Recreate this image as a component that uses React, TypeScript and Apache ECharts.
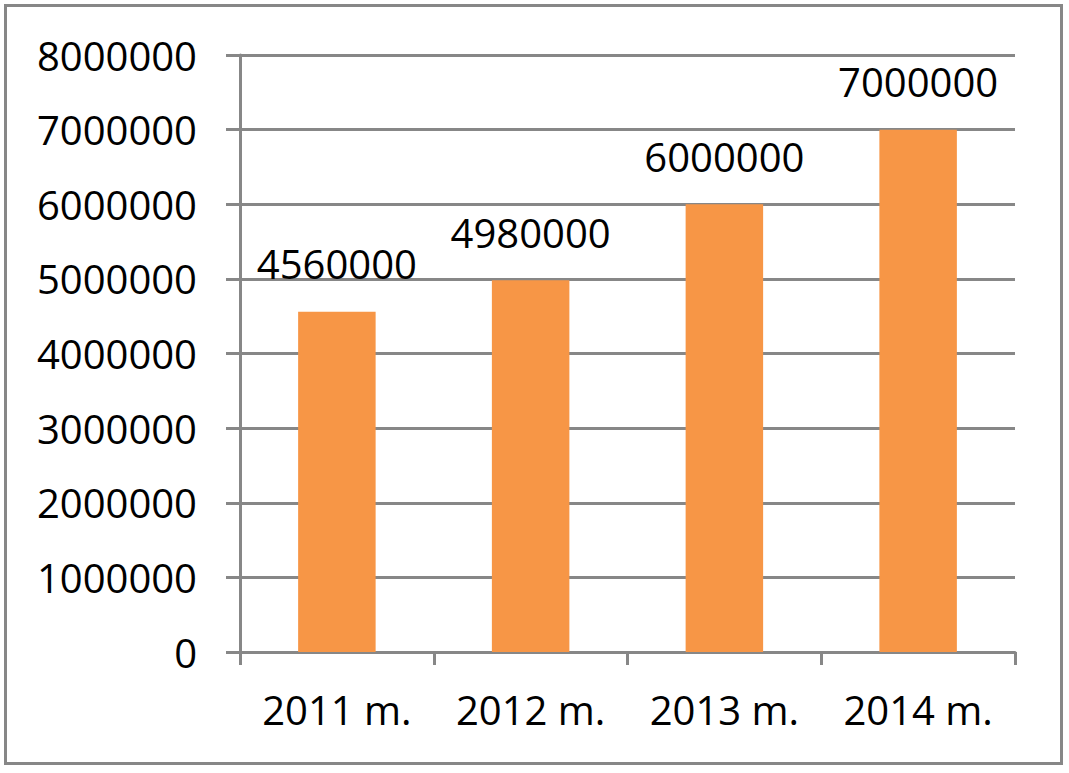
import React, { useEffect, useRef } from "react";
import * as echarts from "echarts";

const categories = ["2011 m.", "2012 m.", "2013 m.", "2014 m."];
const values = [4560000, 4980000, 6000000, 7000000];
const yMin = 0;
const yMax = 8000000;
const yInterval = 1000000;

const FONT = "'Open Sans', 'Liberation Sans', sans-serif";
const GRAY = "#878787";

export default function App() {
  const ref = useRef<HTMLDivElement>(null);
  useEffect(() => {
    if (!ref.current) return;
    const chart = echarts.init(ref.current, undefined, { renderer: "svg" });
    chart.setOption({
      animation: false,
      backgroundColor: "#ffffff",
      grid: { left: 240, right: 54, top: 55, bottom: 121, containLabel: false },
      xAxis: {
        type: "category",
        data: categories,
        axisLine: { lineStyle: { color: GRAY, width: 3 } },
        axisTick: { show: true, length: 13, lineStyle: { color: GRAY, width: 3 } },
        axisLabel: {
          color: "#000",
          fontFamily: FONT,
          fontSize: 40,
          margin: 37,
          interval: 0,
        },
      },
      yAxis: {
        type: "value",
        min: yMin,
        max: yMax,
        interval: yInterval,
        axisLine: { show: true, lineStyle: { color: GRAY, width: 3 } },
        axisTick: { show: true, length: 14, lineStyle: { color: GRAY, width: 3 } },
        splitLine: { lineStyle: { color: GRAY, width: 3 } },
        axisLabel: {
          color: "#000",
          fontFamily: FONT,
          fontSize: 40,
          margin: 43,
          padding: [0, 0, 6, 0],
          formatter: (v: number) => String(v),
        },
      },
      series: [
        {
          type: "bar",
          data: values,
          barWidth: "40%",
          itemStyle: { color: "#F79646" },
          label: {
            show: true,
            position: "top",
            distance: 28,
            color: "#000",
            fontFamily: FONT,
            fontSize: 40,
            formatter: (p: any) => String(p.value),
          },
        },
      ],
      graphic: [
        {
          type: "rect",
          shape: { x: 5.5, y: 5.5, width: 1056, height: 758 },
          style: { fill: "none", stroke: GRAY, lineWidth: 3 },
          silent: true,
        },
      ],
    });
    return () => chart.dispose();
  }, []);
  return (
    <div
      ref={ref}
      style={{ position: "fixed", left: 0, top: 0, width: 1069, height: 773 }}
    />
  );
}
